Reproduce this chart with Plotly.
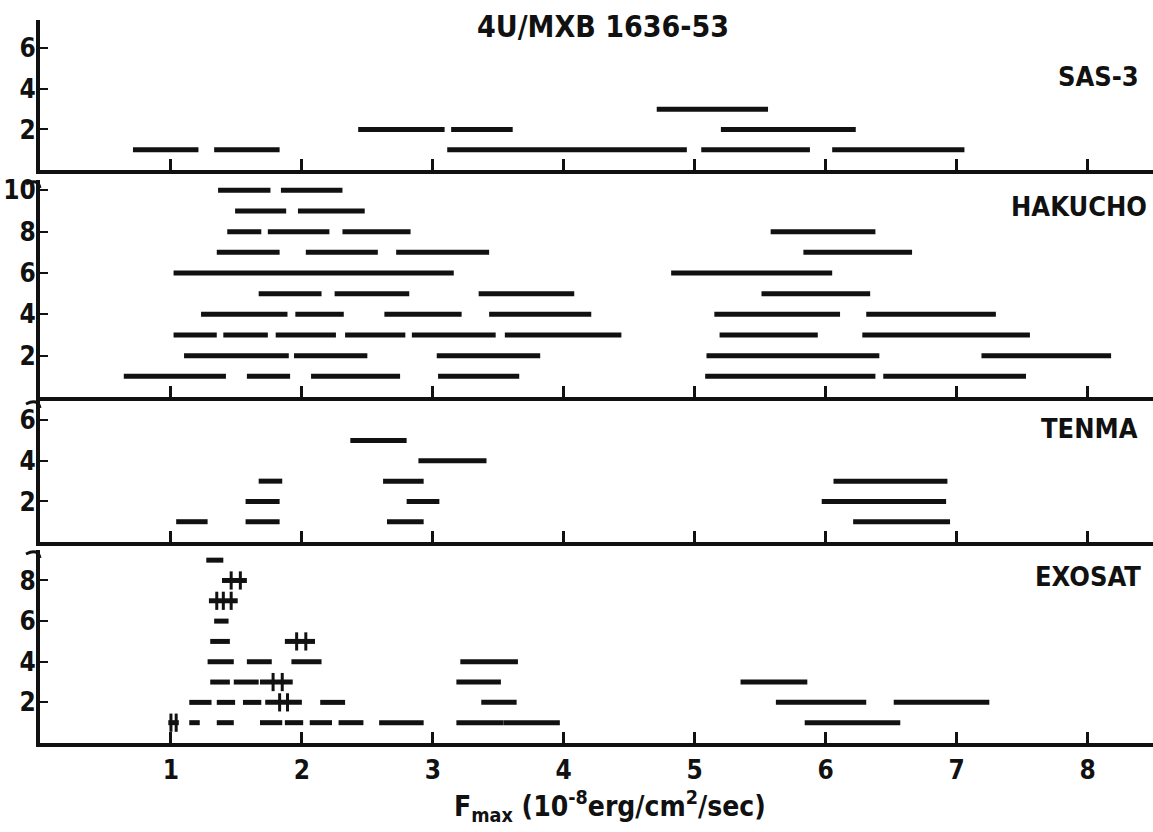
import plotly.graph_objects as go

# ---------------- data ----------------
xticks = [1, 2, 3, 4, 5, 6, 7, 8]

sas3_start = [0.71, 1.33, 3.11, 5.05, 6.05, 2.43, 3.14, 5.20, 4.71]
sas3_end   = [1.21, 1.83, 4.94, 5.88, 7.06, 3.09, 3.61, 6.23, 5.56]
sas3_level = [1, 1, 1, 1, 1, 2, 2, 2, 3]

hak_start = [1.36, 1.84,
             1.49, 1.97,
             1.43, 1.74, 2.31, 5.58,
             1.35, 2.03, 2.72, 5.83,
             1.02, 4.82,
             1.67, 2.25, 3.35, 5.51,
             1.23, 1.95, 2.63, 3.43, 5.15, 6.31,
             1.02, 1.40, 1.80, 2.33, 2.84, 3.55, 5.19, 6.28,
             1.10, 1.94, 3.03, 5.09, 7.19,
             0.64, 1.58, 2.07, 3.04, 5.08, 6.44]
hak_end = [1.76, 2.31,
           1.88, 2.48,
           1.69, 2.21, 2.83, 6.38,
           1.83, 2.58, 3.43, 6.66,
           3.16, 6.05,
           2.15, 2.82, 4.08, 6.34,
           1.89, 2.32, 3.22, 4.21, 6.11, 7.30,
           1.35, 1.74, 2.26, 2.79, 3.48, 4.44, 5.94, 7.56,
           1.90, 2.50, 3.82, 6.41, 8.18,
           1.42, 1.91, 2.75, 3.66, 6.38, 7.53]
hak_level = [10, 10,
             9, 9,
             8, 8, 8, 8,
             7, 7, 7, 7,
             6, 6,
             5, 5, 5, 5,
             4, 4, 4, 4, 4, 4,
             3, 3, 3, 3, 3, 3, 3, 3,
             2, 2, 2, 2, 2,
             1, 1, 1, 1, 1, 1]

tenma_start = [1.04, 1.57, 2.65, 6.21, 1.57, 2.80, 5.97, 1.67, 2.62, 6.06, 2.89, 2.37]
tenma_end   = [1.28, 1.83, 2.93, 6.95, 1.83, 3.05, 6.92, 1.85, 2.93, 6.93, 3.41, 2.80]
tenma_level = [1, 1, 1, 1, 2, 2, 2, 3, 3, 3, 4, 5]

exo_start = [1.27,
             1.39,
             1.29,
             1.33,
             1.30, 1.87,
             1.28, 1.58, 1.92, 3.21,
             1.30, 1.48, 1.68, 3.18, 5.35,
             1.14, 1.35, 1.55, 1.72, 2.14, 3.37, 5.62, 6.52,
             0.98, 1.14, 1.35, 1.68, 1.87, 2.06, 2.28, 2.59, 3.18, 3.54, 5.84]
exo_end = [1.40,
           1.58,
           1.51,
           1.44,
           1.45, 2.10,
           1.48, 1.77, 2.15, 3.65,
           1.45, 1.67, 1.93, 3.52, 5.86,
           1.31, 1.49, 1.69, 2.00, 2.33, 3.64, 6.31, 7.25,
           1.06, 1.22, 1.48, 1.85, 2.01, 2.23, 2.47, 2.93, 3.54, 3.97, 6.57]
exo_level = [9,
             8,
             7,
             6,
             5, 5,
             4, 4, 4, 4,
             3, 3, 3, 3, 3,
             2, 2, 2, 2, 2, 2, 2, 2,
             1, 1, 1, 1, 1, 1, 1, 1, 1, 1, 1]

# short vertical strokes ("#" marks) on some EXOSAT bars
exo_mark_x = [1.46, 1.53, 1.35, 1.40, 1.46, 1.96, 2.03, 1.78, 1.85, 1.83, 1.89, 1.00, 1.04]
exo_mark_y = [8, 8, 7, 7, 7, 5, 5, 3, 3, 2, 2, 1, 1]

panels = [
    dict(name="SAS-3", start=sas3_start, end=sas3_end, level=sas3_level,
         yticks=[2, 4, 6], yrange=[0, 7.4], px=(20, 170), label_x=8.41, label_y=4.6),
    dict(name="HAKUCHO", start=hak_start, end=hak_end, level=hak_level,
         yticks=[2, 4, 6, 8, 10], yrange=[0, 10.5], px=(180, 397), label_x=8.47, label_y=9.2),
    dict(name="TENMA", start=tenma_start, end=tenma_end, level=tenma_level,
         yticks=[2, 4, 6], yrange=[0, 7.0], px=(400, 542), label_x=8.40, label_y=5.6),
    dict(name="EXOSAT", start=exo_start, end=exo_end, level=exo_level,
         yticks=[2, 4, 6, 8], yrange=[0, 9.5], px=(550, 743), label_x=8.42, label_y=8.2),
]

title_text = "4U/MXB 1636-53"
xlabel_text = "F<sub>max</sub> (10<sup>-8</sup>erg/cm<sup>2</sup>/sec)"

# ---------------- figure ----------------
W, H = 1153, 832
ML = 40
FONT = "DejaVu Sans Condensed, DejaVu Sans, sans-serif"
INK = "#111111"

fig = go.Figure()
layout = dict(
    width=W, height=H,
    margin=dict(l=ML, r=0, t=0, b=0),
    paper_bgcolor="white", plot_bgcolor="white",
    showlegend=False,
    font=dict(family=FONT, color=INK, size=26, weight="bold"),
)

annotations = []
for i, p in enumerate(panels, start=1):
    xa = "x" if i == 1 else f"x{i}"
    ya = "y" if i == 1 else f"y{i}"
    xs, ys = [], []
    for s, e, l in zip(p["start"], p["end"], p["level"]):
        xs += [s, e, None]
        ys += [l, l, None]
    fig.add_trace(go.Scatter(x=xs, y=ys, mode="lines", xaxis=xa, yaxis=ya,
                             line=dict(color=INK, width=5), hoverinfo="skip"))
    top, bot = p["px"]
    dom = [1 - bot / H, 1 - top / H]
    xkey = "xaxis" if i == 1 else f"xaxis{i}"
    ykey = "yaxis" if i == 1 else f"yaxis{i}"
    xa_cfg = dict(domain=[0, 1], range=[0, 8.5], anchor=ya,
                  showline=True, linewidth=4, linecolor=INK,
                  ticks="inside", tickvals=xticks, ticklen=11, tickwidth=3,
                  tickcolor=INK, showticklabels=(i == 4),
                  showgrid=False, zeroline=False, automargin=False)
    if i == 4:
        xa_cfg.update(ticktext=[str(t) for t in xticks],
                      tickfont=dict(size=26, family=FONT, weight="bold", color=INK),
                      ticklabelstandoff=1)
    layout[xkey] = xa_cfg
    layout[ykey] = dict(domain=dom, range=p["yrange"], anchor=xa,
                        showline=True, linewidth=4, linecolor=INK,
                        ticks="inside", tickvals=p["yticks"], ticklen=8, tickwidth=2,
                        tickcolor=INK,
                        tickfont=dict(size=26, family=FONT, weight="bold", color=INK),
                        ticklabelstandoff=-5,
                        showgrid=False, zeroline=False, automargin=False)
    annotations.append(dict(text=p["name"], x=p["label_x"], y=p["label_y"], xref=xa, yref=ya,
                            xanchor="right", yanchor="middle", showarrow=False,
                            font=dict(size=27, family=FONT, weight="bold", color=INK)))

fig.add_trace(go.Scatter(x=exo_mark_x, y=exo_mark_y, mode="markers", xaxis="x4", yaxis="y4",
                         marker=dict(symbol="line-ns", size=13,
                                     line=dict(color=INK, width=3)),
                         hoverinfo="skip"))

annotations.append(dict(text=title_text, x=4.3, y=1 - 26 / H, xref="x", yref="paper",
                        xanchor="center", yanchor="middle", showarrow=False,
                        font=dict(size=30, family=FONT, weight="bold", color=INK)))
annotations.append(dict(text=xlabel_text, x=4.35, y=1 - 806 / H, xref="x", yref="paper",
                        xanchor="center", yanchor="middle", showarrow=False,
                        font=dict(size=28, family=FONT, weight="bold", color=INK)))
layout["annotations"] = annotations

# small axis-break hooks at the top of the lower panels' y axes
def px2paper(xp, yp):
    return (xp - ML) / (W - ML), 1 - yp / H

shapes = []
for p in panels[1:]:
    top = p["px"][0]
    x0, y0 = px2paper(ML - 14, top + 4)
    x1, y1 = px2paper(ML - 2, top - 2)
    x2, y2 = px2paper(ML, top + 8)
    shapes.append(dict(type="path", xref="paper", yref="paper",
                       path=f"M {x0} {y0} Q {x1} {y1} {x2} {y2}",
                       line=dict(color=INK, width=3)))
layout["shapes"] = shapes

fig.update_layout(**layout)
fig.write_html("out.html")
